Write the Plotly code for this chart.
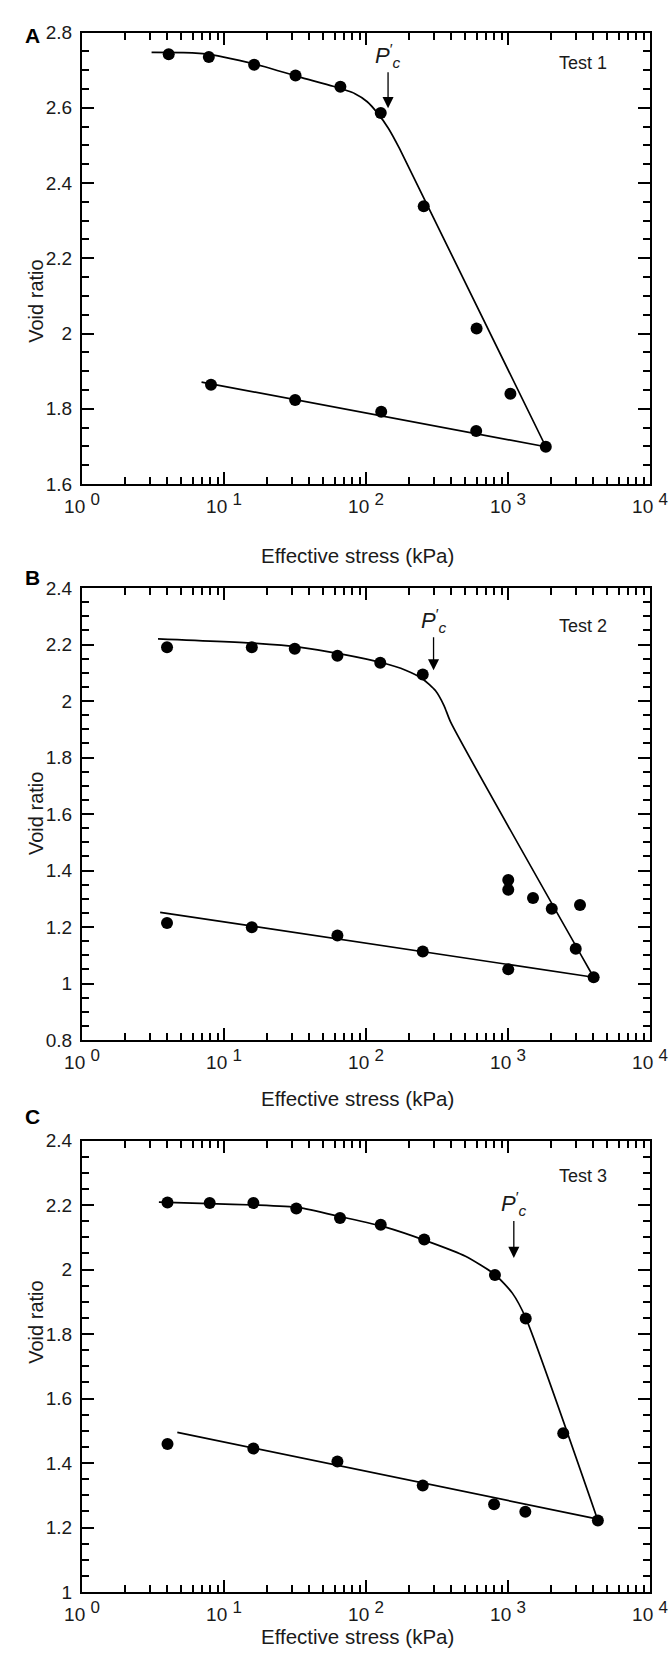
import math
import plotly.graph_objects as go

# ---------------- data (kPa, void ratio) ----------------
# Panel A - Test 1
a_load_x = [4.08, 7.82, 16.3, 31.9, 66, 127, 255, 601, 1040, 1846]
a_load_y = [2.742, 2.735, 2.714, 2.686, 2.656, 2.586, 2.338, 2.013, 1.840, 1.699]
a_unload_x = [8.1, 31.7, 128, 597]
a_unload_y = [1.864, 1.823, 1.792, 1.741]
a_curve_x = [3.09, 5.97, 8.44, 12.8, 19.4, 33.7, 58.7, 83.0, 102, 121, 144, 172, 1846]
a_curve_y = [2.747, 2.746, 2.740, 2.726, 2.709, 2.682, 2.657, 2.638, 2.616, 2.585, 2.545, 2.492, 1.699]
a_line_x = [6.95, 1846]
a_line_y = [1.871, 1.699]

# Panel B - Test 2
b_load_x = [3.97, 15.7, 31.5, 62.9, 126, 251, 1004, 1004, 1500, 2033, 3214, 2999, 4010]
b_load_y = [2.190, 2.190, 2.185, 2.160, 2.135, 2.094, 1.366, 1.332, 1.303, 1.265, 1.278, 1.123, 1.022]
b_unload_x = [3.97, 15.7, 62.9, 251, 1004]
b_unload_y = [1.214, 1.199, 1.170, 1.113, 1.050]
b_curve_x = [3.43, 16.9, 33.7, 67.4, 126, 190, 251, 309, 355, 394, 4010]
b_curve_y = [2.220, 2.204, 2.191, 2.166, 2.137, 2.109, 2.078, 2.036, 1.983, 1.926, 1.022]
b_line_x = [3.55, 4010]
b_line_y = [1.252, 1.022]

# Panel C - Test 3
c_load_x = [4.0, 7.93, 16.1, 32.3, 65.6, 127, 257, 809, 1333, 2450, 4295]
c_load_y = [2.208, 2.206, 2.206, 2.189, 2.160, 2.139, 2.093, 1.983, 1.848, 1.492, 1.222]
c_unload_x = [4.0, 16.1, 62.9, 251, 798, 1324]
c_unload_y = [1.459, 1.445, 1.405, 1.330, 1.272, 1.249]
c_curve_x = [3.48, 7.9, 16.9, 33.7, 67.4, 135, 269, 502, 815, 1076, 1333, 4295]
c_curve_y = [2.209, 2.204, 2.200, 2.192, 2.163, 2.132, 2.088, 2.041, 1.983, 1.926, 1.850, 1.222]
c_line_x = [4.69, 4295]
c_line_y = [1.495, 1.226]

# preconsolidation stress markers (kPa, void ratio at arrow tip)
pc_x = [143, 299, 1099]
pc_y = [2.599, 2.109, 2.036]

test_labels = ["Test 1", "Test 2", "Test 3"]
panel_letters = ["A", "B", "C"]
x_tickvals = [1, 10, 100, 1000, 10000]
x_exponents = ["0", "1", "2", "3", "4"]
y_ranges = [(1.6, 2.8), (0.8, 2.4), (1.0, 2.4)]

# ---------------- layout geometry ----------------
W, H = 670, 1666
left_px, right_px = 82, 650
tops = [32.5, 588, 1140.5]
bottoms = [484, 1040, 1592]
FONT = "Liberation Sans, Arial, Helvetica, sans-serif"

x_ticktext = ["10 <sup><span style='font-size:17px'>%s</span></sup>" % e for e in x_exponents]

fig = go.Figure()

panels = [
    (a_load_x, a_load_y, a_unload_x, a_unload_y, a_curve_x, a_curve_y, a_line_x, a_line_y),
    (b_load_x, b_load_y, b_unload_x, b_unload_y, b_curve_x, b_curve_y, b_line_x, b_line_y),
    (c_load_x, c_load_y, c_unload_x, c_unload_y, c_curve_x, c_curve_y, c_line_x, c_line_y),
]

minor_x = [m * 10 ** k for k in range(4) for m in range(2, 10)]

annotations = []
for i, (lx, ly, ux, uy, cx, cy, sx, sy) in enumerate(panels):
    n = "" if i == 0 else str(i + 1)
    xa, ya = "x" + n, "y" + n
    line = dict(color="black", width=1.7)
    mk = dict(color="black", size=12, symbol="circle")
    fig.add_trace(go.Scatter(x=cx, y=cy, mode="lines", line=dict(line, shape="spline", smoothing=0.6),
                             xaxis=xa, yaxis=ya, showlegend=False))
    fig.add_trace(go.Scatter(x=sx, y=sy, mode="lines", line=line, xaxis=xa, yaxis=ya,
                             showlegend=False))
    fig.add_trace(go.Scatter(x=lx, y=ly, mode="markers", marker=mk, xaxis=xa, yaxis=ya,
                             showlegend=False))
    fig.add_trace(go.Scatter(x=ux, y=uy, mode="markers", marker=mk, xaxis=xa, yaxis=ya,
                             showlegend=False))

    y0, y1 = y_ranges[i]
    ydom = [1 - bottoms[i] / H, 1 - tops[i] / H]
    xdom = [left_px / W, right_px / W]
    yt = []
    v = y0
    while v <= y1 + 1e-9:
        yt.append(round(v, 2))
        v += 0.2
    ytt = [("%g" % t) for t in yt]

    axis_common = dict(showline=True, linecolor="black", linewidth=2, mirror="allticks",
                       ticks="inside", tickcolor="black", tickwidth=1.6, ticklen=12,
                       showgrid=False, zeroline=False, automargin=False,
                       tickfont=dict(family=FONT, size=19, color="#1a1a1a"))
    fig.update_layout(**{
        ("xaxis" + n): dict(axis_common, type="log", range=[0, 4], domain=xdom, anchor=ya,
                            tickvals=x_tickvals, ticktext=x_ticktext, ticklabelstandoff=4,
                            minor=dict(ticks="inside", ticklen=7, tickwidth=1.5,
                                       tickcolor="black", tickvals=minor_x, showgrid=False)),
        ("yaxis" + n): dict(axis_common, range=[y0, y1], domain=ydom, anchor=xa,
                            tickvals=yt, ticktext=ytt, ticklabelstandoff=4,
                            minor=dict(ticks="inside", ticklen=7, tickwidth=1.5,
                                       tickcolor="black", dtick=0.05, showgrid=False)),
    })

    # P'c arrow + label
    ay_px = [-53, -50, -54][i]
    annotations.append(dict(x=math.log10(pc_x[i]), y=pc_y[i], xref=xa, yref=ya,
                            text="<i>P</i><sup>′</sup><sub><i>c</i></sub>",
                            showarrow=True, arrowhead=2, arrowsize=1.7, arrowwidth=1.3,
                            arrowcolor="black", ax=0, ay=ay_px, standoff=0,
                            font=dict(family=FONT, size=22, color="#1a1a1a")))
    # Test label
    annotations.append(dict(x=3.528, y=[2.72, 2.267, 2.29][i], xref=xa, yref=ya,
                            text=test_labels[i], showarrow=False,
                            font=dict(family=FONT, size=18, color="#1a1a1a")))
    # Y title
    annotations.append(dict(x=23 / W, y=1 - (tops[i] + bottoms[i]) / 2 / H, xref="paper",
                            yref="paper", text="Void ratio", textangle=-90, showarrow=False,
                            font=dict(family=FONT, size=20, color="#1a1a1a")))
    # X title
    annotations.append(dict(x=357 / W, y=1 - (bottoms[i] + 58) / H, xref="paper",
                            yref="paper", text="Effective stress (kPa)", showarrow=False,
                            font=dict(family=FONT, size=20.5, color="#1a1a1a")))
    # Panel letter
    annotations.append(dict(x=23 / W, y=1 - (tops[i] - 11) / H, xref="paper", yref="paper",
                            text="<b>%s</b>" % panel_letters[i], showarrow=False,
                            font=dict(family=FONT, size=21, color="black")))

fig.update_layout(width=W, height=H, autosize=False,
                  margin=dict(l=0, r=0, t=0, b=0),
                  paper_bgcolor="white", plot_bgcolor="white",
                  annotations=annotations, showlegend=False)

fig.write_html("out.html")
